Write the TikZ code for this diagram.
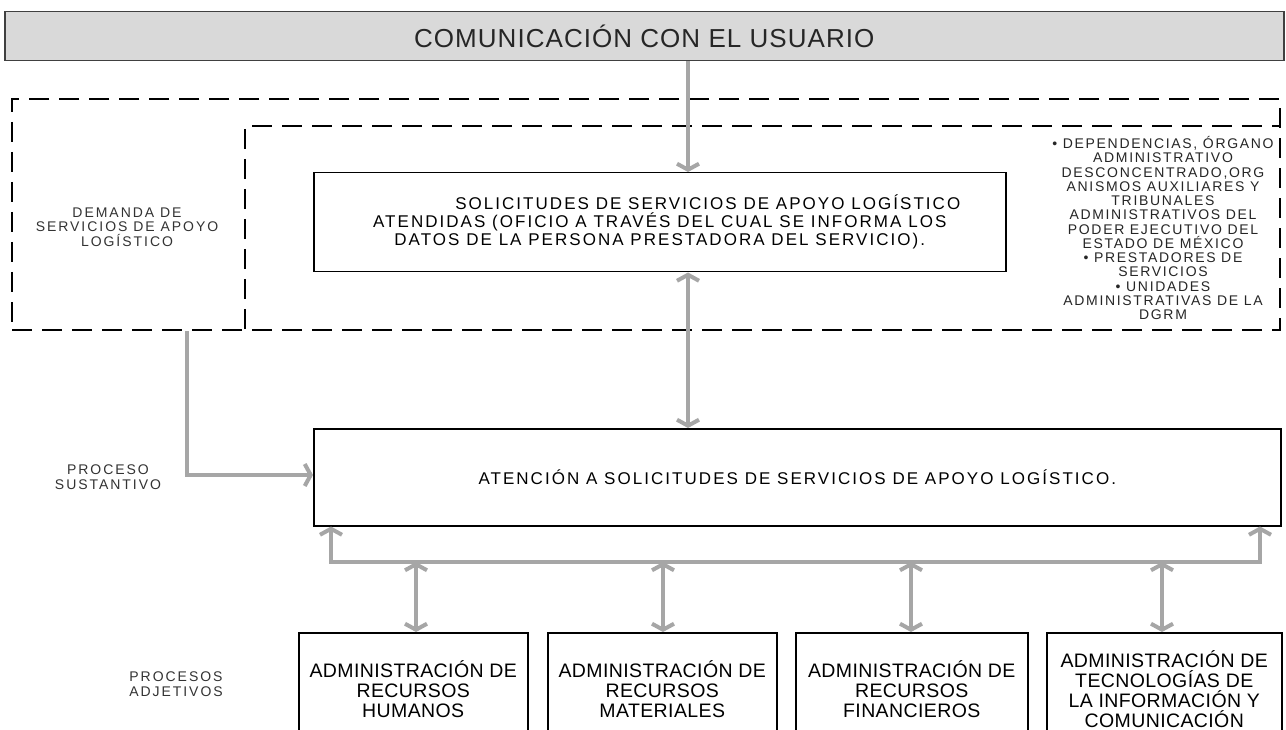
\documentclass[tikz,border=0pt]{standalone}
\usepackage{fontspec}
\setmainfont{Liberation Sans}
\newfontfamily\spA[LetterSpace=12]{Liberation Sans}
\newfontfamily\spL[LetterSpace=14]{Liberation Sans}
\newfontfamily\spT[LetterSpace=4]{Liberation Sans}
\newfontfamily\spB[LetterSpace=2]{Liberation Sans}
\usetikzlibrary{arrows.meta}
\definecolor{arrowgray}{HTML}{A6A6A6}
\definecolor{topfill}{HTML}{D9D9D9}
\definecolor{topline}{HTML}{404040}
\tikzset{
  topbox/.style={draw=topline, fill=topfill, line width=1.5pt, inner sep=0pt, anchor=north west,
    font=\spT\fontsize{26}{30}\selectfont, text=black!85},
  box/.style={draw=black, line width=1.5pt, inner sep=0pt, anchor=north west, align=center},
  dashbox/.style={draw=black, line width=2pt, dash pattern=on 20pt off 10pt, inner sep=0pt, anchor=north west},
  dashline/.style={draw=black, line width=2pt, dash pattern=on 20pt off 10pt},
  midtext/.style={font=\spA\fontsize{17}{18}\selectfont},
  lbl/.style={align=center, inner sep=0pt, font=\spL\fontsize{14}{14.5}\selectfont, text=black!80},
  listtext/.style={align=center, inner sep=0pt, font=\spA\fontsize{14}{14.25}\selectfont, text=black!85},
  adjbox/.style={box, minimum height=112pt, font=\spB\fontsize{19.5}{20}\selectfont},
  garrow/.style={draw=arrowgray, line width=4pt, -{Straight Barb[length=6pt,width=22pt]}},
  gdbl/.style={draw=arrowgray, line width=4pt, {Straight Barb[length=6pt,width=22pt]}-{Straight Barb[length=6pt,width=22pt]}}
}
\begin{document}
\begin{tikzpicture}[x=1pt,y=-1pt]
\clip (0,0) rectangle (1286,730);
\fill[white] (0,0) rectangle (1286,730);

% top bar
\node[topbox, minimum width=1279pt, minimum height=49pt] (top) at (4,11) {COMUNICACIÓN CON EL USUARIO};

% dashed areas
\node[dashbox, minimum width=1268pt, minimum height=231pt] (outer) at (11,98) {};
\draw[dashline] (245,329) -- (245,126) -- (1279,126);

% main boxes
\node[box, midtext, minimum width=692pt, minimum height=99pt] (sol) at (313,172)
  {\hspace*{96pt}SOLICITUDES DE SERVICIOS DE APOYO LOGÍSTICO\\
   ATENDIDAS (OFICIO A TRAVÉS DEL CUAL SE INFORMA LOS\\
   DATOS DE LA PERSONA PRESTADORA DEL SERVICIO).};
\node[box, midtext, minimum width=967pt, minimum height=97pt] (aten) at (313,428)
  {ATENCIÓN A SOLICITUDES DE SERVICIOS DE APOYO LOGÍSTICO.};

% bottom boxes
\node[adjbox, minimum width=229pt] (b1) at (298,632) {ADMINISTRACIÓN DE\\RECURSOS\\HUMANOS};
\node[adjbox, minimum width=229pt] (b2) at (547,632) {ADMINISTRACIÓN DE\\RECURSOS\\MATERIALES};
\node[adjbox, minimum width=232pt] (b3) at (795,632) {ADMINISTRACIÓN DE\\RECURSOS\\FINANCIEROS};
\node[adjbox, minimum width=235pt] (b4) at (1046,632) {ADMINISTRACIÓN DE\\TECNOLOGÍAS DE\\LA INFORMACIÓN Y\\COMUNICACIÓN};

% labels
\node[lbl] (demanda) at (127,227) {DEMANDA DE\\SERVICIOS DE APOYO\\LOGÍSTICO};
\node[lbl] (sust) at (108,477) {PROCESO\\SUSTANTIVO};
\node[lbl] (adj) at (176,684) {PROCESOS\\ADJETIVOS};
\node[listtext] (list) at (1163,228)
  {• DEPENDENCIAS, ÓRGANO\\
   ADMINISTRATIVO\\
   DESCONCENTRADO,ORG\\
   ANISMOS AUXILIARES Y\\
   TRIBUNALES\\
   ADMINISTRATIVOS DEL\\
   PODER EJECUTIVO DEL\\
   ESTADO DE MÉXICO\\
   • PRESTADORES DE\\
   SERVICIOS\\
   • UNIDADES\\
   ADMINISTRATIVAS DE LA\\
   DGRM};

% connectors
\coordinate (ax) at (688,0);
\draw[garrow] (top.south -| ax) -- (sol.north -| ax);
\draw[gdbl] (sol.south -| ax) -- (aten.north -| ax);

\coordinate (lx) at (187,0);
\coordinate (ly) at (0,475);
\draw[garrow] (outer.south -| lx) |- (aten.west |- ly);

\coordinate (bl) at (331,562);
\coordinate (br) at (1260,562);
\draw[gdbl] (aten.south -| bl) -- (bl) -- (br) -- (aten.south -| br);

\coordinate (a1) at (416,562);
\coordinate (a2) at (663,562);
\coordinate (a3) at (911,562);
\coordinate (a4) at (1162,562);
\draw[gdbl] (a1) -- (a1 |- b1.north);
\draw[gdbl] (a2) -- (a2 |- b2.north);
\draw[gdbl] (a3) -- (a3 |- b3.north);
\draw[gdbl] (a4) -- (a4 |- b4.north);
\end{tikzpicture}
\end{document}
